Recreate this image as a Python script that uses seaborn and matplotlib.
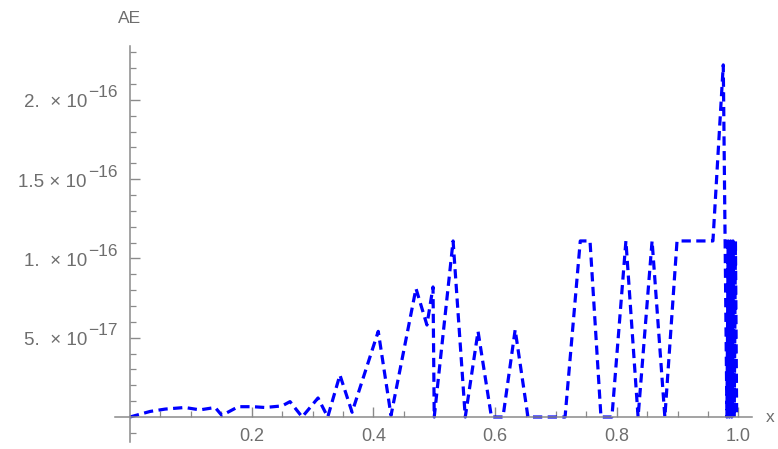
import numpy as np
import pandas as pd
import matplotlib
matplotlib.use("Agg")
import matplotlib.pyplot as plt
import seaborn as sns
from matplotlib.ticker import FixedLocator, NullFormatter

# ---- data (x, absolute error in units of 1e-17) ----
x_vals = [0, 0.033, 0.058, 0.09, 0.115, 0.14, 0.151, 0.178, 0.202, 0.222,
          0.25, 0.263, 0.283, 0.309, 0.325, 0.345, 0.365, 0.408, 0.429, 0.47,
          0.488, 0.498, 0.500, 0.531, 0.551, 0.572, 0.594, 0.613, 0.633, 0.654,
          0.715, 0.74, 0.756, 0.774, 0.792, 0.815, 0.835, 0.858, 0.879, 0.899,
          0.958, 0.975, 0.978, 0.981, 0.983, 0.985, 0.987, 0.989, 0.991, 0.993,
          0.995, 0.997]
ae_e17 = [0, 0.35, 0.5, 0.6, 0.45, 0.6, 0.1, 0.65, 0.65, 0.6,
          0.7, 0.97, 0, 1.2, 0, 2.65, 0.3, 5.4, 0.1, 8.1,
          5.8, 8.2, 0, 11.1, 0, 5.4, 0, 0, 5.5, 0,
          0, 11.1, 11.1, 0, 0, 11.1, 0, 11.1, 0, 11.1,
          11.1, 22.2, 11.1, 0, 11.1, 0, 11.1, 0, 11.1, 0,
          11.1, 0]
y_ticks = [5e-17, 1e-16, 1.5e-16, 2e-16]
y_tick_mantissa = ["5.  \u00d7 10", "1.  \u00d7 10", "1.5 \u00d7 10", "2.  \u00d7 10"]
y_tick_exponent = ["\u221217", "\u221216", "\u221216", "\u221216"]
x_ticks = [0.2, 0.4, 0.6, 0.8, 1.0]
x_tick_labels = ["0.2", "0.4", "0.6", "0.8", "1.0"]

df = pd.DataFrame({"x": x_vals, "AE": np.array(ae_e17) * 1e-17})

sns.set_style("white")
plt.rcParams["font.family"] = ["Liberation Sans", "DejaVu Sans"]

axis_col = "#8a8a8a"
text_col = "#6e6e6e"

fig = plt.figure(figsize=(7.78, 4.49), dpi=100)
ax = fig.add_axes([115 / 778, 1 - 441.7 / 449, (752 - 115) / 778, (441.7 - 45.7) / 449])

sns.lineplot(data=df, x="x", y="AE", ax=ax, sort=False, estimator=None,
             color="#0000ff", linewidth=2.3, linestyle=(0, (2.9, 1.7)),
             dash_capstyle="butt")

ax.set_xlim(-0.0246, 1.0222)
ax.set_ylim(-0.1557e-16, 2.341e-16)

for s in ["top", "right"]:
    ax.spines[s].set_visible(False)
ax.spines["left"].set_position(("data", 0))
ax.spines["bottom"].set_position(("data", 0))
for s in ["left", "bottom"]:
    ax.spines[s].set_color(axis_col)
    ax.spines[s].set_linewidth(1.1)

ax.xaxis.set_major_locator(FixedLocator(x_ticks))
ax.set_xticklabels(x_tick_labels)
ax.xaxis.set_minor_locator(FixedLocator([k * 0.05 for k in range(1, 21) if k % 4 != 0]))
ax.yaxis.set_major_locator(FixedLocator(y_ticks))
ax.yaxis.set_major_formatter(NullFormatter())
ax.yaxis.set_minor_locator(FixedLocator([k * 1e-17 for k in range(-1, 24)
                                          if k % 5 != 0]))

ax.tick_params(axis="both", which="both", bottom=True, left=True, top=False, right=False)
ax.tick_params(axis="both", which="major", direction="in", length=7, width=1.0,
               color=axis_col, labelcolor=text_col, labelsize=13)
ax.tick_params(axis="both", which="minor", direction="in", length=4, width=0.9,
               color=axis_col)
ax.tick_params(axis="x", which="major", pad=8)

ax.set_xlabel("")
ax.set_ylabel("")

# y tick labels in Mathematica style: mantissa × 10 with a raised exponent
fig.canvas.draw()
renderer = fig.canvas.get_renderer()
px2pt = 72.0 / fig.dpi
for t, mant, ex in zip(y_ticks, y_tick_mantissa, y_tick_exponent):
    e = ax.annotate(ex, xy=(0, t), xycoords="data",
                    xytext=(-12 * px2pt, 7 * px2pt), textcoords="offset points",
                    ha="right", va="center", fontsize=12.5, color=text_col,
                    annotation_clip=False)
    w = e.get_window_extent(renderer).width
    ax.annotate(mant, xy=(0, t), xycoords="data",
                xytext=(-(12 + w + 1.5) * px2pt, -3 * px2pt), textcoords="offset points",
                ha="right", va="center", fontsize=13.5, color=text_col,
                annotation_clip=False)

ax.text(0, 2.51e-16, "AE", color=text_col, fontsize=12.5, ha="center", va="center",
        clip_on=False)
ax.text(1.052, 0.0, "x", color=text_col, fontsize=12.5, ha="center", va="center",
        clip_on=False)

ax.set_facecolor("white")
fig.patch.set_facecolor("white")
fig.savefig("out.png", dpi=100, facecolor="white")
